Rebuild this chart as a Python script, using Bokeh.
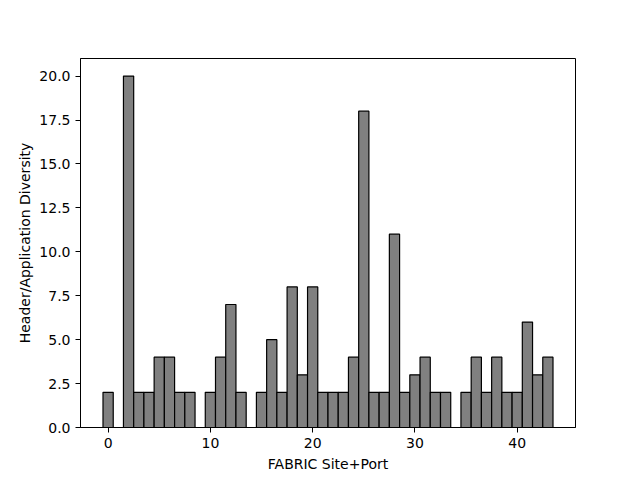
from bokeh.plotting import figure
from bokeh.models import FixedTicker, PrintfTickFormatter, Range1d, ColumnDataSource
from bokeh.embed import file_html
from bokeh.resources import INLINE

sites = list(range(44))
diversity = [2, 0, 20, 2, 2, 4, 4, 2, 2, 0,
             2, 4, 7, 2, 0, 2, 5, 2, 8, 3,
             8, 2, 2, 2, 4, 18, 2, 2, 11, 2,
             3, 4, 2, 2, 0, 2, 4, 2, 4, 2,
             2, 6, 3, 4]
x_ticks = [0, 10, 20, 30, 40]
y_ticks = [0, 2.5, 5, 7.5, 10, 12.5, 15, 17.5, 20]

src = ColumnDataSource(dict(x=sites, top=diversity))

p = figure(width=640, height=480, output_backend="svg", toolbar_location=None,
           x_range=Range1d(-2.7, 45.7), y_range=Range1d(0, 21),
           min_border_left=80, min_border_right=65, min_border_top=58, min_border_bottom=53)
p.vbar(x="x", top="top", width=1, source=src, fill_color="#808080",
       line_color="black", line_width=1.2)

p.grid.visible = False
p.outline_line_color = "black"
p.outline_line_width = 1
p.outline_line_alpha = 1

p.xaxis.ticker = FixedTicker(ticks=x_ticks)
p.yaxis.ticker = FixedTicker(ticks=y_ticks)
p.yaxis.formatter = PrintfTickFormatter(format="%.1f")
p.xaxis.axis_label = "FABRIC Site+Port"
p.yaxis.axis_label = "Header/Application Diversity"

for ax in (p.xaxis, p.yaxis):
    ax.axis_line_color = "black"
    ax.major_tick_line_color = "black"
    ax.major_tick_out = 5
    ax.major_tick_in = 0
    ax.minor_tick_line_color = None
    ax.major_label_text_font = "DejaVu Sans"
    ax.major_label_text_font_size = "14px"
    ax.major_label_text_color = "black"
    ax.axis_label_text_font = "DejaVu Sans"
    ax.axis_label_text_font_size = "14px"
    ax.axis_label_text_font_style = "normal"
    ax.axis_label_text_color = "black"
    ax.major_label_standoff = 5
p.xaxis.axis_label_standoff = 5
p.yaxis.axis_label_standoff = 3

open("out.html", "w").write(file_html(p, INLINE))
